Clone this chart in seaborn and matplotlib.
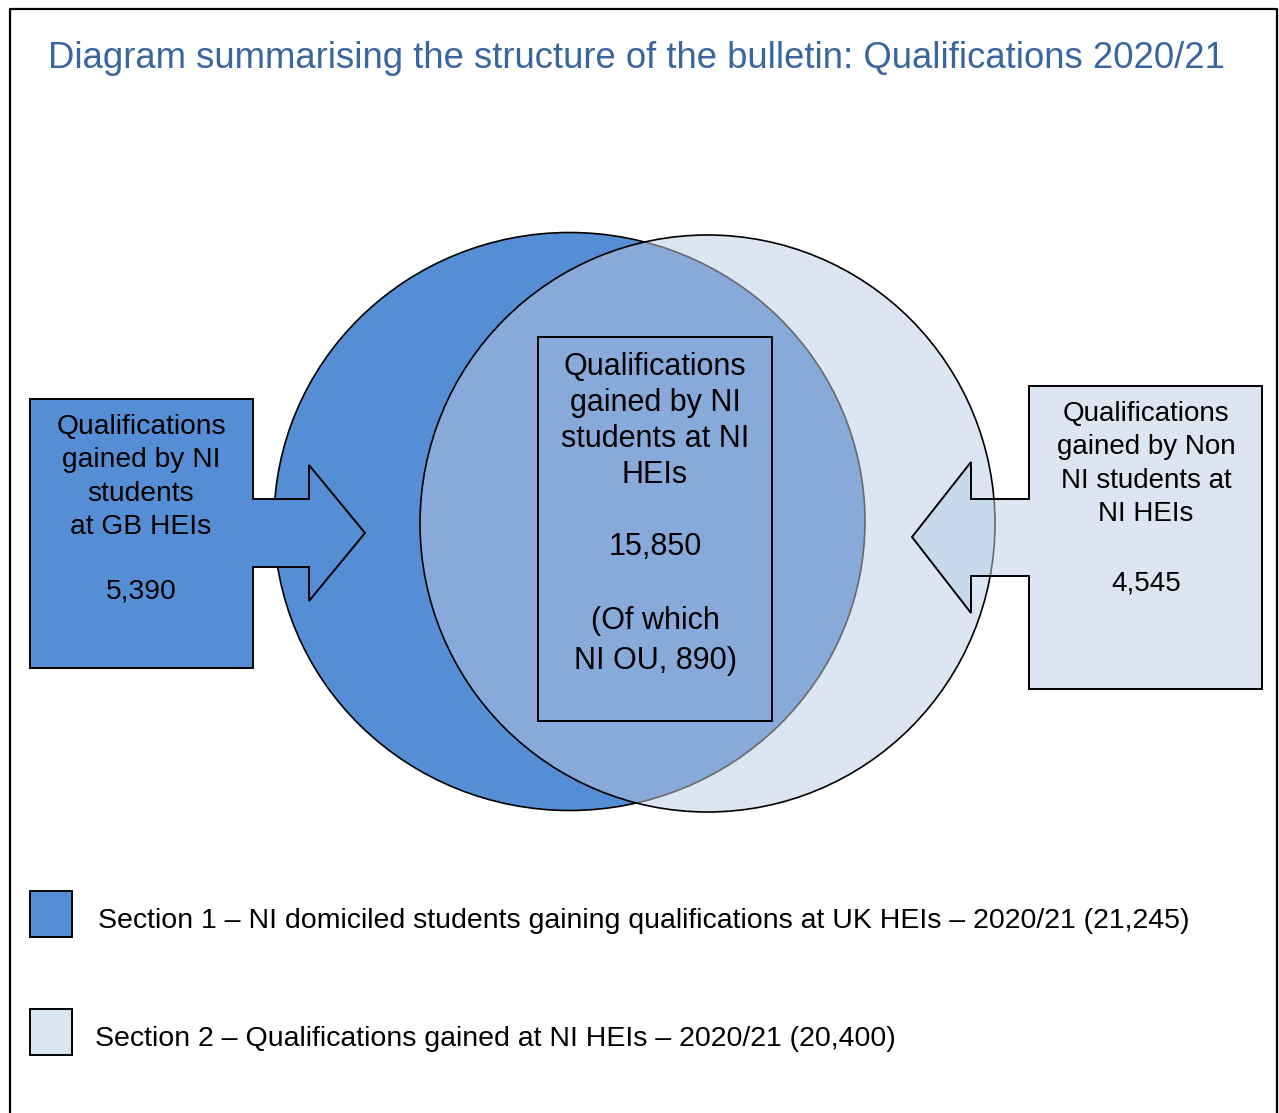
import matplotlib
matplotlib.use("Agg")
import matplotlib.pyplot as plt
import seaborn as sns
from matplotlib.patches import Ellipse, Polygon, Rectangle

# ------------------------------------------------ data ------------------------------------------------
title = "Diagram summarising the structure of the bulletin: Qualifications 2020/21"

box_labels = [
    "Qualifications\ngained by NI\nstudents\nat GB HEIs",
    "Qualifications\ngained by NI\nstudents at NI\nHEIs",
    "Qualifications\ngained by Non\nNI students at\nNI HEIs",
]
box_values = [5390, 15850, 4545]
ou_value = 890

section_labels = [
    "Section 1 – NI domiciled students gaining qualifications at UK HEIs – 2020/21",
    "Section 2 – Qualifications gained at NI HEIs – 2020/21",
]
section_totals = [21245, 20400]

dark_blue = "#558ED5"
light_blue = "#DCE6F2"
overlap_blue = "#87AADB"
title_blue = "#3A66A0"

# ------------------------------------------------ figure ----------------------------------------------
sns.set_theme(style="white")
plt.rcParams["font.family"] = ["Liberation Sans", "DejaVu Sans"]

fig = plt.figure(figsize=(12.79, 11.13), dpi=100)
ax = fig.add_axes([0, 0, 1, 1])
ax.set_xlim(0, 1279)
ax.set_ylim(1113, 0)
ax.axis("off")

# outer frame (open at the bottom)
ax.plot([10, 10, 1277, 1277], [1113, 9, 9, 1113], color="black", lw=1.6, zorder=1)

# circles
c1 = dict(xy=(569.5, 521.5), width=591, height=578)
c2 = dict(xy=(707.5, 523.5), width=575, height=577)

ax.add_patch(Ellipse(**c1, facecolor=dark_blue, edgecolor="black", lw=1.2, zorder=2))
right_circle = Ellipse(**c2, facecolor=light_blue, edgecolor="none", zorder=3)
ax.add_patch(right_circle)

# overlap region, with the left circle's edge showing through in grey
overlap = Ellipse(**c1, facecolor=overlap_blue, edgecolor="#6A6A6A", lw=1.2, zorder=4)
ax.add_patch(overlap)
overlap.set_clip_path(right_circle)

ax.add_patch(Ellipse(**c2, facecolor="none", edgecolor="black", lw=1.2, zorder=6))

# left box + arrow
left_shape = Polygon(
    [(30, 399), (253, 399), (253, 499), (309, 499), (309, 465), (365, 533),
     (309, 601), (309, 567), (253, 567), (253, 668), (30, 668)],
    closed=True, facecolor=dark_blue, edgecolor="black", lw=1.4, zorder=7)
ax.add_patch(left_shape)

# right box + arrow
right_pts = [(1262, 386), (1262, 689), (1029, 689), (1029, 576), (971, 576), (971, 613),
             (912, 537), (971, 462), (971, 499), (1029, 499), (1029, 386)]
ax.add_patch(Polygon(right_pts, closed=True, facecolor=light_blue, edgecolor="none", zorder=7))
clip_poly = Polygon(right_pts, closed=True, facecolor="none", edgecolor="none")
ax.add_patch(clip_poly)
tint = Ellipse(**c2, facecolor="#C9D9EC", edgecolor="#6A6A6A", lw=1.2, zorder=8)
ax.add_patch(tint)
tint.set_clip_path(clip_poly)
ax.add_patch(Polygon(right_pts, closed=True, facecolor="none", edgecolor="black", lw=1.4, zorder=9))

# centre box
ax.add_patch(Rectangle((538, 337), 234, 384, facecolor="none", edgecolor="black", lw=1.4, zorder=9))


def put_lines(text, x, y0, step, size):
    for i, line in enumerate(text.split("\n")):
        ax.text(x, y0 + i * step, line, ha="center", va="center", fontsize=size,
                color="black", zorder=10)


# box texts
put_lines(box_labels[0], 141, 427, 33.3, 20.3)
put_lines(f"{box_values[0]:,}", 141, 592, 0, 20.3)

put_lines(box_labels[1], 655, 367, 36, 22)
put_lines(f"{box_values[1]:,}", 655, 547, 0, 22)
put_lines(f"(Of which\nNI OU, {ou_value:,})", 655, 621, 40, 22)

put_lines(box_labels[2], 1146, 414, 33.3, 20)
put_lines(f"{box_values[2]:,}", 1146, 583, 0, 20)

# title
ax.text(48, 59, title, ha="left", va="center", fontsize=26.3, color=title_blue, zorder=10)

# legend
legend_y = [914, 1032]
legend_x = [98, 95]
for i, (lab, tot) in enumerate(zip(section_labels, section_totals)):
    colour = dark_blue if i == 0 else light_blue
    ax.add_patch(Rectangle((30, legend_y[i] - 23), 42, 46, facecolor=colour,
                           edgecolor="black", lw=1.4, zorder=9))
    ax.text(legend_x[i], legend_y[i] + 7, f"{lab} ({tot:,})", ha="left", va="center",
            fontsize=20.5, color="black", zorder=10)

fig.savefig("out.png", dpi=100)
